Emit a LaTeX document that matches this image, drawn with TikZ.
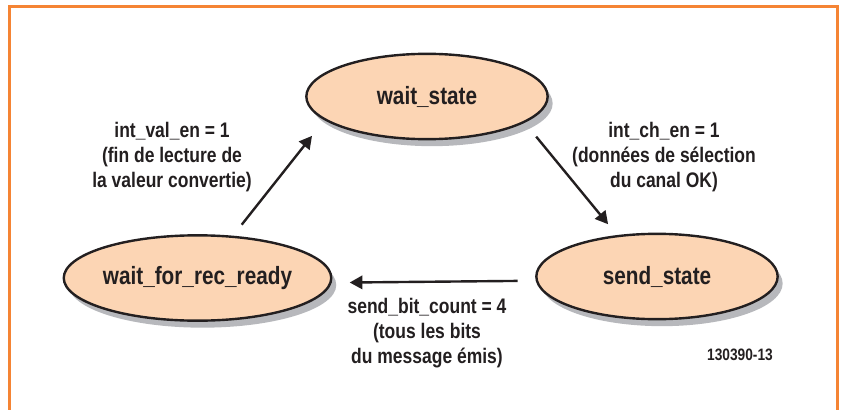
\documentclass[tikz,border=0pt]{standalone}
\usepackage{fontspec}
\setmainfont{Liberation Sans}[FakeStretch=0.83]
\usetikzlibrary{shapes.geometric,shadows,arrows.meta}

\tikzset{every picture/.style={line width=0.75pt}}
\tikzset{
state/.style={ellipse, draw={rgb, 255:red, 35; green, 31; blue, 32}, line width=1.8pt,
  fill={rgb, 255:red, 252; green, 213; blue, 180},
  minimum width=181pt, minimum height=64pt, inner sep=0pt,
  text={rgb, 255:red, 35; green, 31; blue, 32},
  font=\fontsize{18.75}{22}\selectfont\bfseries,
  drop shadow={shadow xshift=3.75pt, shadow yshift=-5.25pt, opacity=1,
    fill={rgb, 255:red, 183; green, 184; blue, 188}}},
cond/.style={align=center, inner sep=0.75pt,
  text={rgb, 255:red, 35; green, 31; blue, 32},
  font=\fontsize{15.8}{18.75}\selectfont\bfseries},
trans/.style={draw={rgb, 255:red, 35; green, 31; blue, 32}, line width=1.8pt,
  -{Triangle[length=9.5pt,width=10pt]}},
frameline/.style={draw={rgb, 255:red, 245; green, 132; blue, 52}, line width=2.25pt}
}

\begin{document}
\begin{tikzpicture}[x=0.75pt,y=0.75pt,yscale=-1,xscale=1]
\useasboundingbox (0,0) rectangle (842,410);

%Straight Lines (frame)
\draw [frameline] (9,410) -- (9,7) -- (837,7) -- (837,410) ;

%Shape: Ellipse
\node [state] (waitst) at (427,96.5) {wait\_state};
%Shape: Ellipse
\node [state] (sendst) at (657,276.5) {send\_state};
%Shape: Ellipse
\node [state] (waitrec) at (197.5,278) {wait\_for\_rec\_ready};

%Straight Lines
\draw [trans, shorten <=10.5pt, shorten >=15pt] (waitrec.50) -- (waitst.193) ;
%Straight Lines
\draw [trans, shorten <=13.5pt, shorten >=10.5pt] (waitst.345) -- (sendst.134) ;
%Straight Lines
\draw [trans, shorten <=13.5pt, shorten >=13.5pt] (sendst.182) -- (waitrec.358) ;

% Text Node
\node [cond] (lblval) at (172,157) {int\_val\_en = 1\\(fin de lecture de\\la valeur convertie)};
% Text Node
\node [cond] (lblch) at (664,157) {int\_ch\_en = 1\\(données de sélection\\du canal OK)};
% Text Node
\node [cond] (lblbit) at (427,333) {send\_bit\_count = 4\\(tous les bits\\du message émis)};
% Text Node
\node [cond, font=\fontsize{12.4}{15}\selectfont\bfseries] (figno) at (740,355) {130390-13};

\end{tikzpicture}
\end{document}
